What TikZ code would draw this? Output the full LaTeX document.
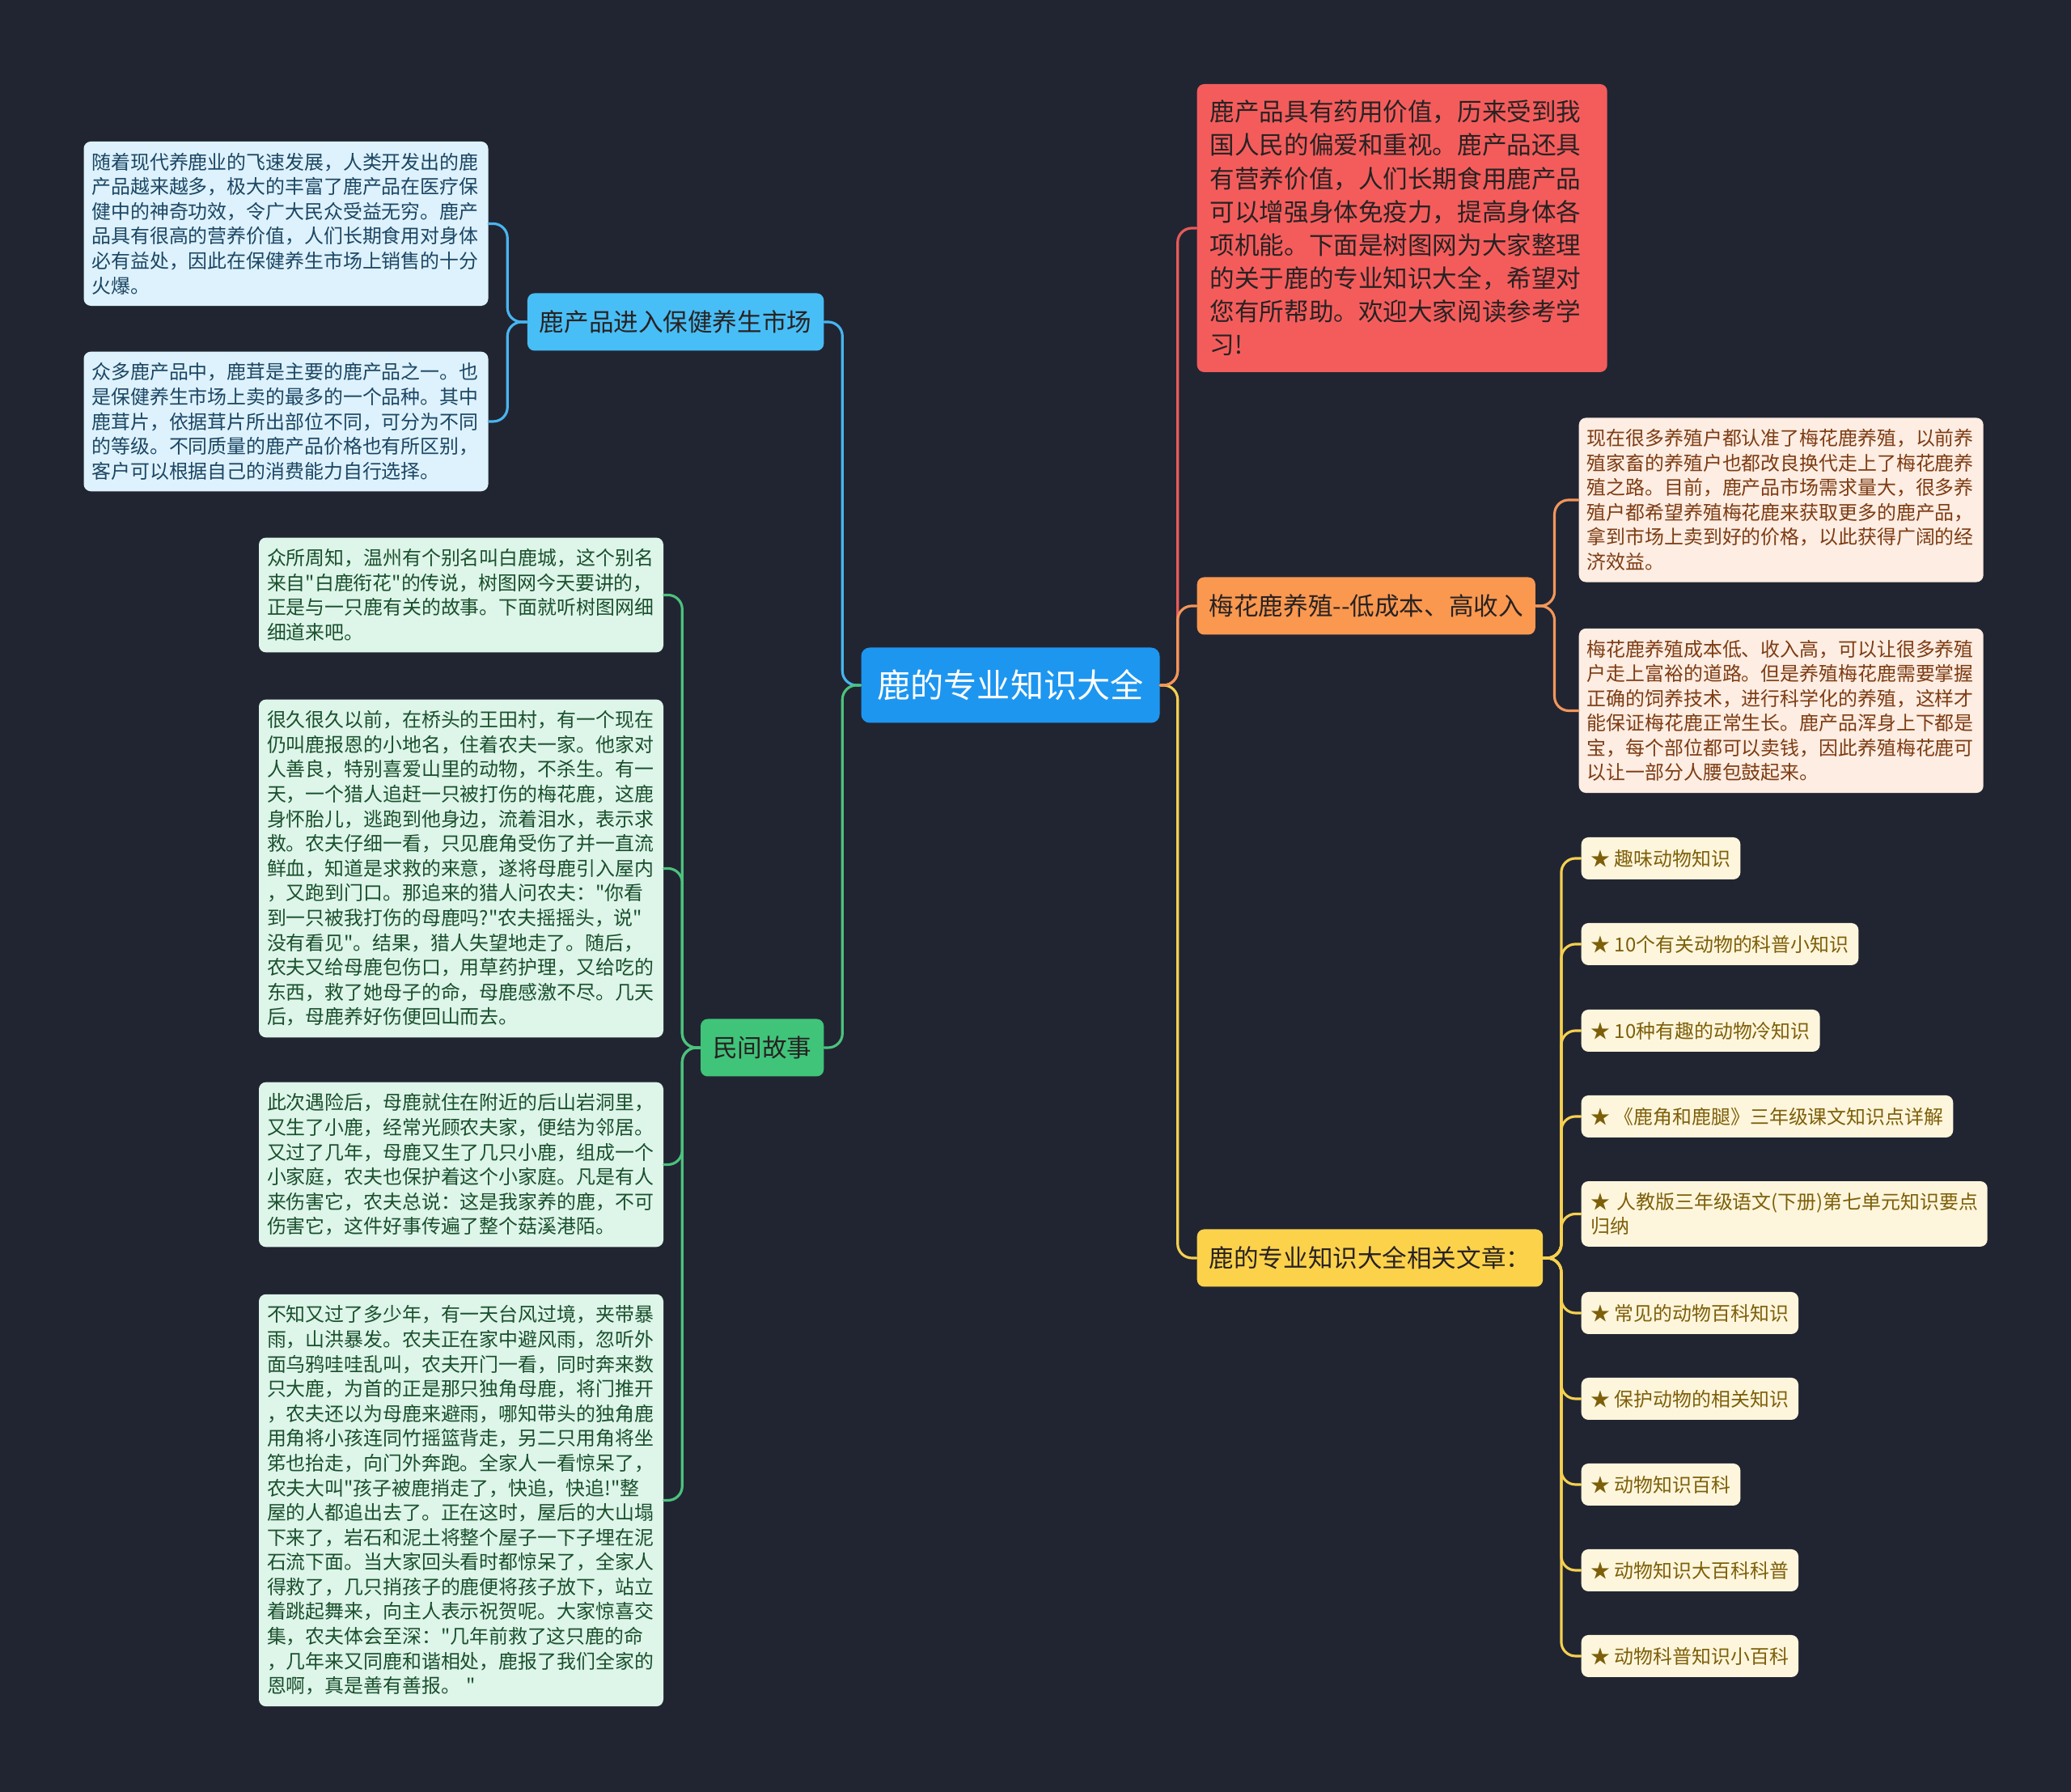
\documentclass[tikz,border=0pt]{standalone}
\usepackage{fontspec}
\setmainfont{Noto Sans CJK SC}[Ligatures=TeXOff]
\usepackage{xcolor}
\definecolor{bgdark}{RGB}{33,37,50}
\definecolor{rootblue}{RGB}{29,150,240}
\definecolor{prodblue}{RGB}{72,190,246}
\definecolor{storygreen}{RGB}{64,196,122}
\definecolor{introred}{RGB}{244,92,92}
\definecolor{farmorange}{RGB}{250,152,80}
\definecolor{relyellow}{RGB}{252,210,75}
\definecolor{topicink}{RGB}{40,34,34}
\definecolor{bluebg}{RGB}{221,242,252}
\definecolor{blueink}{RGB}{28,70,100}
\definecolor{greenbg}{RGB}{222,245,233}
\definecolor{greenink}{RGB}{25,80,45}
\definecolor{orangebg}{RGB}{253,237,226}
\definecolor{orangeink}{RGB}{125,60,20}
\definecolor{leafbg}{RGB}{254,246,220}
\definecolor{leafink}{RGB}{125,95,10}

\begin{document}
\begin{tikzpicture}[line cap=round,
  root/.style={fill=rootblue,text=white,font=\fontsize{11.7pt}{14pt}\selectfont,minimum width=3.69cm,minimum height=0.93cm,inner sep=0pt,rounded corners=3pt},
  topic/.style={text=topicink,font=\fontsize{8.7pt}{11.7pt}\selectfont,minimum height=0.71cm,inner xsep=0.15cm,rounded corners=2.5pt},
  memo/.style={font=\fontsize{6.8pt}{8.7pt}\selectfont,align=left,text width=4.8cm,inner xsep=0.1cm,inner ysep=0.14cm,rounded corners=2.5pt},
  leaf/.style={fill=leafbg,text=leafink,font=\fontsize{6.8pt}{8.7pt}\selectfont,minimum height=0.52cm,inner xsep=0.12cm,rounded corners=2.5pt,anchor=west},
  bline/.style={draw={rgb,255:red,72;green,181;blue,240},line width=0.9pt,rounded corners=5pt},
  gline/.style={draw={rgb,255:red,76;green,194;blue,125},line width=0.9pt,rounded corners=5pt},
  rline/.style={draw={rgb,255:red,232;green,90;blue,90},line width=0.9pt,rounded corners=5pt},
  oline/.style={draw={rgb,255:red,242;green,150;blue,90},line width=0.9pt,rounded corners=5pt},
  yline/.style={draw={rgb,255:red,246;green,208;blue,80},line width=0.9pt,rounded corners=5pt}]
\fill[bgdark] (0,0) rectangle (25.6,22.15);

\node[root] (root) at (12.49,13.68) {鹿的专业知识大全};

\node[topic,fill=prodblue,anchor=east] (prod) at (10.19,18.17) {鹿产品进入保健养生市场};
\node[topic,fill=storygreen,anchor=east] (story) at (10.19,9.20) {民间故事};
\node[topic,fill=introred,anchor=west,align=left,text width=4.75cm,inner xsep=0.16cm,inner ysep=0.2cm] (intro) at (14.79,19.33) {鹿产品具有药用价值，历来受到我\\国人民的偏爱和重视。鹿产品还具\\有营养价值，人们长期食用鹿产品\\可以增强身体免疫力，提高身体各\\项机能。下面是树图网为大家整理\\的关于鹿的专业知识大全，希望对\\您有所帮助。欢迎大家阅读参考学\\习!};
\node[topic,fill=farmorange,anchor=west] (farm) at (14.79,14.66) {梅花鹿养殖--低成本、高收入};
\node[topic,fill=relyellow,anchor=west] (rel) at (14.79,6.60) {鹿的专业知识大全相关文章：};

\node[memo,fill=bluebg,text=blueink] (b1) at (3.535,19.385) {随着现代养鹿业的飞速发展，人类开发出的鹿\\产品越来越多，极大的丰富了鹿产品在医疗保\\健中的神奇功效，令广大民众受益无穷。鹿产\\品具有很高的营养价值，人们长期食用对身体\\必有益处，因此在保健养生市场上销售的十分\\火爆。};
\node[memo,fill=bluebg,text=blueink] (b2) at (3.535,16.94) {众多鹿产品中，鹿茸是主要的鹿产品之一。也\\是保健养生市场上卖的最多的一个品种。其中\\鹿茸片，依据茸片所出部位不同，可分为不同\\的等级。不同质量的鹿产品价格也有所区别，\\客户可以根据自己的消费能力自行选择。};

\node[memo,fill=greenbg,text=greenink] (g1) at (5.70,14.795) {众所周知，温州有个别名叫白鹿城，这个别名\\来自"白鹿衔花"的传说，树图网今天要讲的，\\正是与一只鹿有关的故事。下面就听树图网细\\细道来吧。};
\node[memo,fill=greenbg,text=greenink] (g2) at (5.70,11.415) {很久很久以前，在桥头的王田村，有一个现在\\仍叫鹿报恩的小地名，住着农夫一家。他家对\\人善良，特别喜爱山里的动物，不杀生。有一\\天，一个猎人追赶一只被打伤的梅花鹿，这鹿\\身怀胎儿，逃跑到他身边，流着泪水，表示求\\救。农夫仔细一看，只见鹿角受伤了并一直流\\鲜血，知道是求救的来意，遂将母鹿引入屋内\\，又跑到门口。那追来的猎人问农夫："你看\\到一只被我打伤的母鹿吗?"农夫摇摇头，说"\\没有看见"。结果，猎人失望地走了。随后，\\农夫又给母鹿包伤口，用草药护理，又给吃的\\东西，救了她母子的命，母鹿感激不尽。几天\\后，母鹿养好伤便回山而去。};
\node[memo,fill=greenbg,text=greenink] (g3) at (5.70,7.755) {此次遇险后，母鹿就住在附近的后山岩洞里，\\又生了小鹿，经常光顾农夫家，便结为邻居。\\又过了几年，母鹿又生了几只小鹿，组成一个\\小家庭，农夫也保护着这个小家庭。凡是有人\\来伤害它，农夫总说：这是我家养的鹿，不可\\伤害它，这件好事传遍了整个菇溪港陌。};
\node[memo,fill=greenbg,text=greenink] (g4) at (5.70,3.605) {不知又过了多少年，有一天台风过境，夹带暴\\雨，山洪暴发。农夫正在家中避风雨，忽听外\\面乌鸦哇哇乱叫，农夫开门一看，同时奔来数\\只大鹿，为首的正是那只独角母鹿，将门推开\\，农夫还以为母鹿来避雨，哪知带头的独角鹿\\用角将小孩连同竹摇篮背走，另二只用角将坐\\笫也抬走，向门外奔跑。全家人一看惊呆了，\\农夫大叫"孩子被鹿捎走了，快追，快追!"整\\屋的人都追出去了。正在这时，屋后的大山塌\\下来了，岩石和泥土将整个屋子一下子埋在泥\\石流下面。当大家回头看时都惊呆了，全家人\\得救了，几只捎孩子的鹿便将孩子放下，站立\\着跳起舞来，向主人表示祝贺呢。大家惊喜交\\集，农夫体会至深："几年前救了这只鹿的命\\，几年来又同鹿和谐相处，鹿报了我们全家的\\恩啊，真是善有善报。 "};

\node[memo,fill=orangebg,text=orangeink,anchor=west] (o1) at (19.51,15.97) {现在很多养殖户都认准了梅花鹿养殖，以前养\\殖家畜的养殖户也都改良换代走上了梅花鹿养\\殖之路。目前，鹿产品市场需求量大，很多养\\殖户都希望养殖梅花鹿来获取更多的鹿产品，\\拿到市场上卖到好的价格，以此获得广阔的经\\济效益。};
\node[memo,fill=orangebg,text=orangeink,anchor=west] (o2) at (19.51,13.365) {梅花鹿养殖成本低、收入高，可以让很多养殖\\户走上富裕的道路。但是养殖梅花鹿需要掌握\\正确的饲养技术，进行科学化的养殖，这样才\\能保证梅花鹿正常生长。鹿产品浑身上下都是\\宝，每个部位都可以卖钱，因此养殖梅花鹿可\\以让一部分人腰包鼓起来。};

\node[leaf] (l1) at (19.54,11.54) {★ 趣味动物知识};
\node[leaf] (l2) at (19.54,10.48) {★ 10个有关动物的科普小知识};
\node[leaf] (l3) at (19.54,9.41) {★ 10种有趣的动物冷知识};
\node[leaf] (l4) at (19.54,8.35) {★ 《鹿角和鹿腿》三年级课文知识点详解};
\node[leaf,align=left,text width=4.78cm,inner ysep=0.14cm] (l5) at (19.54,7.145) {★~人教版三年级语文(下册)第七单元知识要点\\归纳};
\node[leaf] (l6) at (19.54,5.92) {★ 常见的动物百科知识};
\node[leaf] (l7) at (19.54,4.86) {★ 保护动物的相关知识};
\node[leaf] (l8) at (19.54,3.80) {★ 动物知识百科};
\node[leaf] (l9) at (19.54,2.74) {★ 动物知识大百科科普};
\node[leaf] (l10) at (19.54,1.68) {★ 动物科普知识小百科};

\draw[rline] (root.east) -- ++(0.215,0) |- (intro.west);
\draw[yline] (root.east) -- ++(0.215,0) |- (rel.west);
\draw[oline] (root.east) -- ++(0.215,0) |- (farm.west);
\draw[bline] (root.west) -- ++(-0.225,0) |- (prod.east);
\draw[gline] (root.west) -- ++(-0.225,0) |- (story.east);
\draw[bline] (prod.west) -- ++(-0.24,0) |- (b1.east);
\draw[bline] (prod.west) -- ++(-0.24,0) |- (b2.east);
\foreach \g in {g1,g2,g3,g4}
  \draw[gline] (story.west) -- ++(-0.22,0) |- (\g.east);
\draw[oline] (farm.east) -- ++(0.23,0) |- (o1.west);
\draw[oline] (farm.east) -- ++(0.23,0) |- (o2.west);
\foreach \l in {l1,l2,l3,l4,l5,l6,l7,l8,l9,l10}
  \draw[yline] (rel.east) -- ++(0.22,0) |- (\l.west);
\end{tikzpicture}
\end{document}
